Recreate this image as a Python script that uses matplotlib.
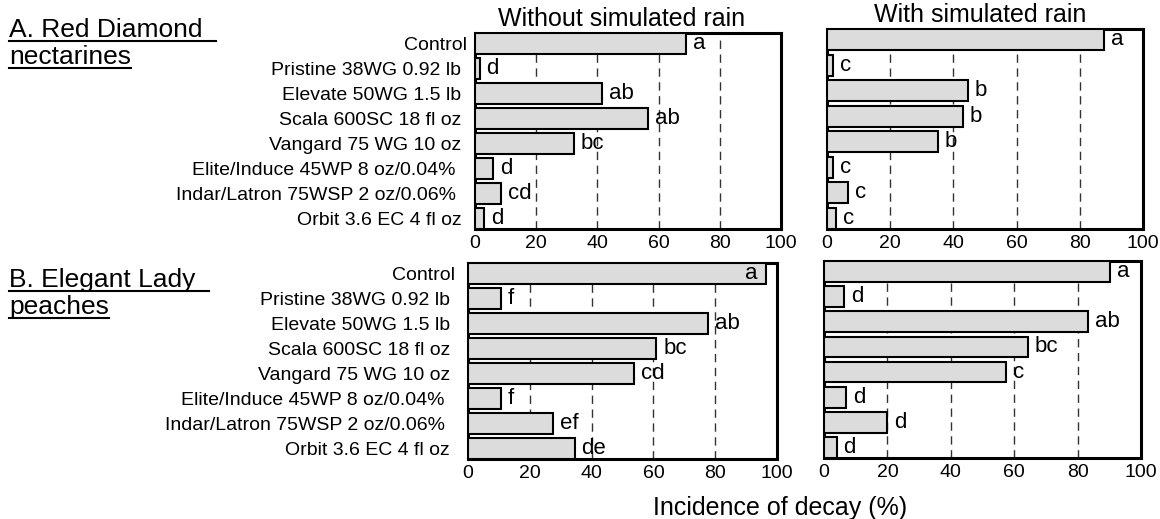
import numpy as np
import matplotlib
matplotlib.use("Agg")
import matplotlib.pyplot as plt
from matplotlib.lines import Line2D

plt.rcParams['font.family'] = ['Liberation Sans', 'DejaVu Sans']

# treatment names (trailing spaces kept as in the original layout)
treatments = ["Control", "Pristine 38WG 0.92 lb ", "Elevate 50WG 1.5 lb ",
              "Scala 600SC 18 fl oz ", "Vangard 75 WG 10 oz ",
              "Elite/Induce 45WP 8 oz/0.04%  ", "Indar/Latron 75WSP 2 oz/0.06%  ",
              "Orbit 3.6 EC 4 fl oz "]

# incidence of decay (%)
nect_dry = [69, 1.5, 41.4, 56.4, 32.3, 6.0, 8.6, 2.9]
nect_dry_letters = ["a", "d", "ab", "ab", "bc", "d", "cd", "d"]
nect_rain = [87.6, 1.8, 44.6, 42.9, 35.0, 1.8, 6.6, 2.9]
nect_rain_letters = ["a", "c", "b", "b", "b", "c", "c", "c"]
peach_dry = [96.5, 10.6, 77.6, 61.0, 53.6, 10.6, 27.6, 34.5]
peach_dry_letters = ["a", "f", "ab", "bc", "cd", "f", "ef", "de"]
peach_rain = [90.3, 6.3, 83.4, 64.2, 57.4, 6.9, 19.8, 4.0]
peach_rain_letters = ["a", "d", "ab", "bc", "c", "d", "d", "d"]

W, H = 1160, 519
fig = plt.figure(figsize=(W / 100, H / 100), dpi=100)


def px_axes(left, top, right, bottom):
    return fig.add_axes([left / W, 1 - bottom / H, (right - left) / W, (bottom - top) / H])


def draw_panel(ax, vals, letters, show_names, name_pad, inside_first=False):
    y = np.arange(len(vals))
    h = 0.82
    ax.barh(y, vals, height=h, color='#dcdcdc', edgecolor='black', linewidth=1.5, zorder=3)
    for x in [20, 40, 60, 80]:
        ax.axvline(x, color='#333333', lw=1.0, ls=(0, (6, 4)), zorder=1)
    for i, (v, lab) in enumerate(zip(vals, letters)):
        if inside_first and i == 0:
            ax.annotate(lab, (v, i), xytext=(-6, 0), textcoords='offset points',
                        ha='right', va='center', fontsize=16, zorder=4)
        else:
            ax.annotate(lab, (v, i), xytext=(5, 0), textcoords='offset points',
                        ha='left', va='center', fontsize=16, zorder=4)
    ax.set_xlim(0, 100)
    ax.set_ylim(len(vals) - 1 + h / 2, -h / 2)
    ax.set_xticks(range(0, 101, 20))
    ax.set_yticks(y)
    if show_names:
        ax.set_yticklabels(treatments, fontsize=14)
    else:
        ax.set_yticklabels([])
    ax.tick_params(axis='x', length=0, labelsize=14, pad=4)
    ax.tick_params(axis='y', length=0, pad=name_pad)
    for s in ax.spines.values():
        s.set_linewidth(2.2)


ax1 = px_axes(475, 33, 781, 229)
ax2 = px_axes(827, 29, 1143, 229)
ax3 = px_axes(468, 263, 777, 459)
ax4 = px_axes(824, 261, 1141, 458)

draw_panel(ax1, nect_dry, nect_dry_letters, True, 6)
draw_panel(ax2, nect_rain, nect_rain_letters, False, 6)
draw_panel(ax3, peach_dry, peach_dry_letters, True, 9, inside_first=True)
draw_panel(ax4, peach_rain, peach_rain_letters, False, 6)

ax1.set_title("Without simulated rain", fontsize=18, pad=5, x=0.48)
ax2.set_title("With simulated rain", fontsize=18, pad=5, x=0.485)

fig.text(780 / W, 1 - 508 / H, "Incidence of decay (%)", fontsize=18,
         ha='center', va='center')

# underlined panel headers
headers = [("A. Red Diamond ", 36.7), ("nectarines", 64),
           ("B. Elegant Lady ", 287), ("peaches", 314)]
htexts = []
for s, base in headers:
    t = fig.text(9 / W, 1 - base / H, s, fontsize=19, ha='left', va='baseline')
    htexts.append((t, s, base))

fig.canvas.draw()
r = fig.canvas.get_renderer()
for t, s, base in htexts:
    bb = t.get_window_extent(r)
    x1 = bb.x1
    if s.endswith(" "):
        x1 = bb.x1 + 6
    yl = 1 - (base + 4) / H
    fig.add_artist(Line2D([bb.x0 / W, x1 / W], [yl, yl], color='black', lw=1.5,
                          transform=fig.transFigure))

fig.savefig("out.png", dpi=100)
